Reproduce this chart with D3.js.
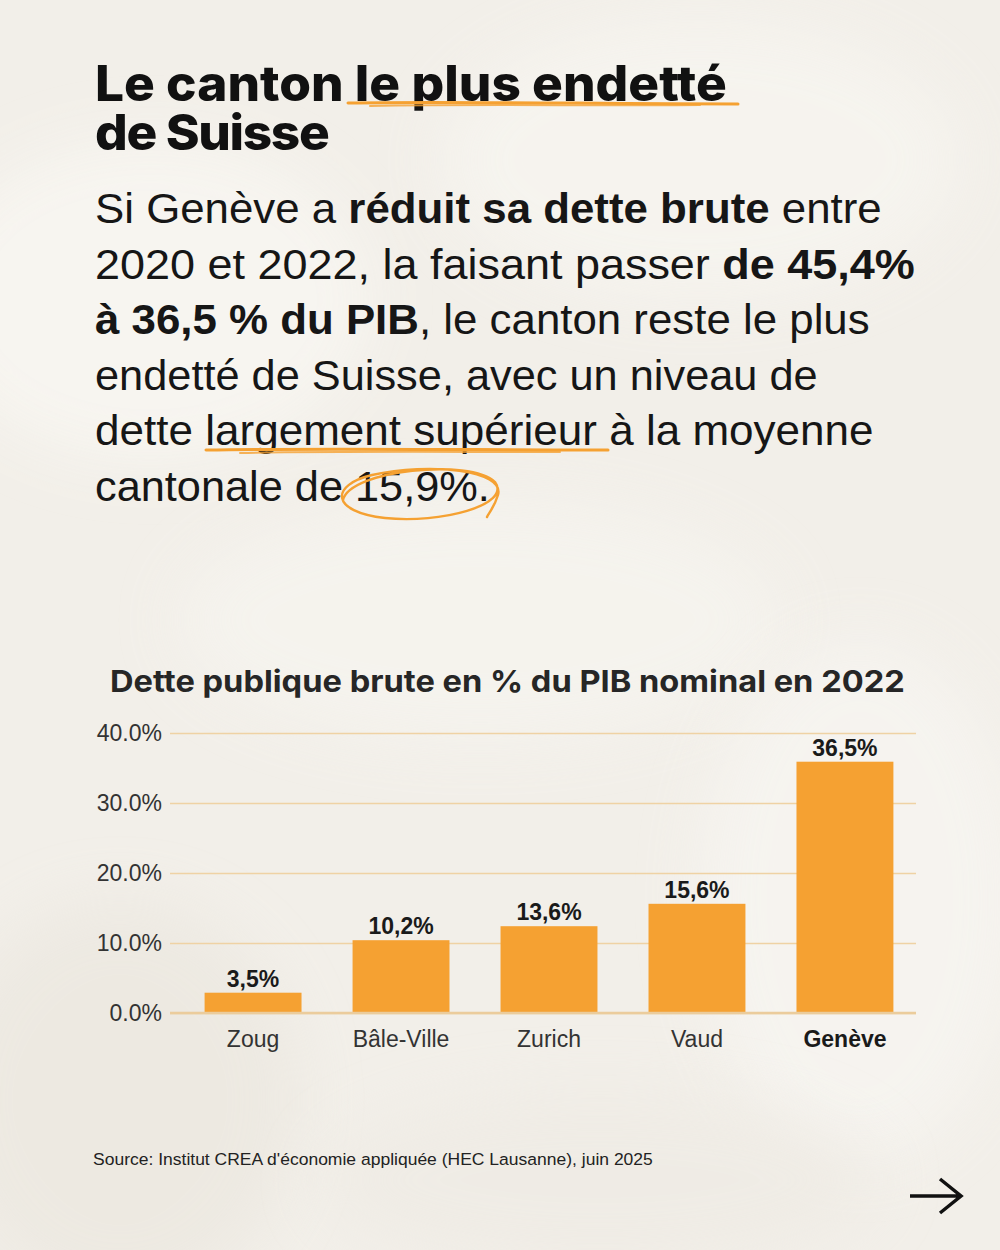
<!DOCTYPE html>
<html>
<head>
<meta charset="utf-8">
<script src="https://cdn.jsdelivr.net/npm/d3@7"></script>
<style>
  html, body { margin: 0; padding: 0; background: #f2efe9; }
  svg { display: block; }
</style>
</head>
<body>
<svg id="chart" width="1000" height="1250"></svg>
<script>
// values
var cantons = ["Zoug", "Bâle-Ville", "Zurich", "Vaud", "Genève"];
var debtShare = [2.9, 10.4, 12.4, 15.6, 35.9];          // bar heights as drawn
var valueLabels = ["3,5%", "10,2%", "13,6%", "15,6%", "36,5%"]; // printed labels
var yTicks = [0, 10, 20, 30, 40];
var highlighted = "Genève";

var orange = "#f5a132";
var svg = d3.select("#chart");

/**
 * Squeeze or stretch a text so its first line fills the width seen in the reference.
 */
function fitWidth(sel, x, target, w) {
    w = w || sel.node().getComputedTextLength();
    var k = target / w;
    sel.attr("transform", "translate(" + x + ",0) scale(" + k + ",1) translate(" + (-x) + ",0)");
}

// paper background
var defs = svg.append("defs");
var blur = defs.append("filter").attr("id", "soft").attr("x", "-50%").attr("y", "-50%").attr("width", "200%").attr("height", "200%");
blur.append("feGaussianBlur").attr("stdDeviation", 30);
svg.append("rect").attr("width", 1000).attr("height", 1250).attr("fill", "#f2efe9");
var blobs = [
    [150, 300, 220, 160, "#f8f6f1", 0.9],
    [700, 160, 260, 140, "#f7f5f0", 0.8],
    [480, 620, 300, 120, "#f6f4ef", 0.8],
    [120, 1100, 180, 200, "#ebe7df", 0.7],
    [860, 900, 160, 260, "#f7f5f1", 0.8],
    [600, 1180, 280, 90, "#eeeae3", 0.6]
];
svg.append("g").selectAll("ellipse").data(blobs).join("ellipse")
    .attr("cx", d => d[0]).attr("cy", d => d[1])
    .attr("rx", d => d[2]).attr("ry", d => d[3])
    .attr("fill", d => d[4]).attr("opacity", d => d[5])
    .attr("filter", "url(#soft)");

// headline (one text, two lines)
var headFont = "Inter, 'Open Sans', sans-serif";
var head = svg.append("text").attr("x", 95).attr("y", 101)
    .style("font-family", headFont).style("font-weight", 800).style("font-size", "49px").attr("fill", "#111");
var l1 = head.append("tspan").attr("x", 95).attr("y", 101).text("Le canton le plus endetté");
head.append("tspan").attr("x", 95).attr("y", 150).style("letter-spacing", "-1.3px").text("de Suisse");
fitWidth(head, 95, 632, l1.node().getComputedTextLength());

// hand drawn underline below "le plus endetté"
svg.append("path").attr("d", "M348,103 C450,101 600,104 738,104").attr("fill", "none")
    .attr("stroke", orange).attr("stroke-width", 3).attr("stroke-linecap", "round");
svg.append("path").attr("d", "M370,106 C470,104 600,106 700,105").attr("fill", "none")
    .attr("stroke", orange).attr("stroke-width", 2).attr("stroke-linecap", "round").attr("opacity", 0.8);

// paragraph
var bodyFont = "'Liberation Sans', Arial, sans-serif";
var paragraph = [
    [["Si Genève a ", 400], ["réduit sa dette brute", 700], [" entre", 400]],
    [["2020 et 2022, la faisant passer ", 400], ["de 45,4%", 700]],
    [["à 36,5 % du PIB", 700], [", le canton reste le plus", 400]],
    [["endetté de Suisse, avec un niveau de", 400]],
    [["dette largement supérieur à la moyenne", 400]],
    [["cantonale de 15,9%.", 400]]
];
var lineWidths = [787, 820, 775, 723, 779, 395];
paragraph.forEach(function (segs, i) {
    var t = svg.append("text").attr("x", 95).attr("y", 223.5 + i * 55.5)
        .style("font-family", bodyFont).style("font-size", "43px").attr("fill", "#161616");
    segs.forEach(function (s) {
        t.append("tspan").style("font-weight", s[1]).text(s[0]);
    });
    fitWidth(t, 95, lineWidths[i]);
});

// underline below "largement supérieur"
svg.append("path").attr("d", "M206,450 C320,448 480,450 608,450").attr("fill", "none")
    .attr("stroke", orange).attr("stroke-width", 3).attr("stroke-linecap", "round");
svg.append("path").attr("d", "M240,453 C330,451 450,452 560,452").attr("fill", "none")
    .attr("stroke", orange).attr("stroke-width", 2).attr("stroke-linecap", "round").attr("opacity", 0.8);

// circle round "15,9%."
var loop = d3.path();
loop.moveTo(343, 500);
loop.bezierCurveTo(350, 470, 470, 458, 495, 482);
loop.bezierCurveTo(512, 505, 440, 524, 385, 518);
loop.bezierCurveTo(330, 512, 330, 485, 372, 475);
loop.bezierCurveTo(430, 462, 505, 470, 498, 495);
loop.bezierCurveTo(494, 508, 488, 514, 487, 517);
svg.append("path").attr("d", loop.toString()).attr("fill", "none")
    .attr("stroke", orange).attr("stroke-width", 2.4).attr("stroke-linecap", "round");

// chart title
var ct = svg.append("text").attr("x", 110).attr("y", 692)
    .style("font-family", headFont).style("font-weight", 700).style("font-size", "30px").attr("fill", "#262626")
    .text("Dette publique brute en % du PIB nominal en 2022");
fitWidth(ct, 110, 795);

// scales
var y = d3.scaleLinear().domain([0, 40]).range([1013, 733]);
var x = d3.scaleBand().domain(cantons).range([175, 923]).paddingInner(0.345).paddingOuter(0.2);

// gridlines + y tick labels
var yAxis = svg.append("g").attr("transform", "translate(170,0)")
    .call(d3.axisLeft(y).tickValues(yTicks).tickSize(-746).tickPadding(8).tickFormat(d => d.toFixed(1) + "%"));
yAxis.select(".domain").remove();
yAxis.selectAll(".tick line").attr("stroke", "#efd2a4").attr("stroke-width", 1.3);
yAxis.selectAll(".tick text").style("font-family", bodyFont).style("font-size", "23px").attr("fill", "#333");

// bars
var rows = cantons.map((c, i) => ({ canton: c, value: debtShare[i], label: valueLabels[i] }));
svg.append("g").selectAll("rect").data(rows).join("rect")
    .attr("x", d => x(d.canton))
    .attr("y", d => y(d.value))
    .attr("width", x.bandwidth())
    .attr("height", d => y(0) - y(d.value))
    .attr("fill", orange);

// baseline
svg.append("line").attr("x1", 170).attr("x2", 916).attr("y1", y(0)).attr("y2", y(0))
    .attr("stroke", "#ebcc9c").attr("stroke-width", 2.5);

// value labels
svg.append("g").selectAll("text").data(rows).join("text")
    .attr("x", d => x(d.canton) + x.bandwidth() / 2)
    .attr("y", d => y(d.value) - 6)
    .attr("text-anchor", "middle")
    .style("font-family", bodyFont).style("font-weight", 700).style("font-size", "23px")
    .attr("fill", "#1a1a1a")
    .text(d => d.label);

// canton names
var xAxis = svg.append("g").attr("transform", "translate(0," + y(0) + ")")
    .call(d3.axisBottom(x).tickSize(0).tickPadding(18));
xAxis.select(".domain").remove();
xAxis.selectAll(".tick text")
    .style("font-family", bodyFont).style("font-size", "23px")
    .style("font-weight", d => d === highlighted ? 700 : 400)
    .attr("fill", d => d === highlighted ? "#1a1a1a" : "#333");

// source
var src = svg.append("text").attr("x", 93).attr("y", 1165)
    .style("font-family", bodyFont).style("font-size", "17px").attr("fill", "#222")
    .text("Source: Institut CREA d'économie appliquée (HEC Lausanne), juin 2025");
fitWidth(src, 93, 560);

// next page arrow
svg.append("path").attr("d", "M910,1196 H960 M940,1179 L961,1196 L940,1213")
    .attr("fill", "none").attr("stroke", "#111").attr("stroke-width", 3.5);
</script>
</body>
</html>
